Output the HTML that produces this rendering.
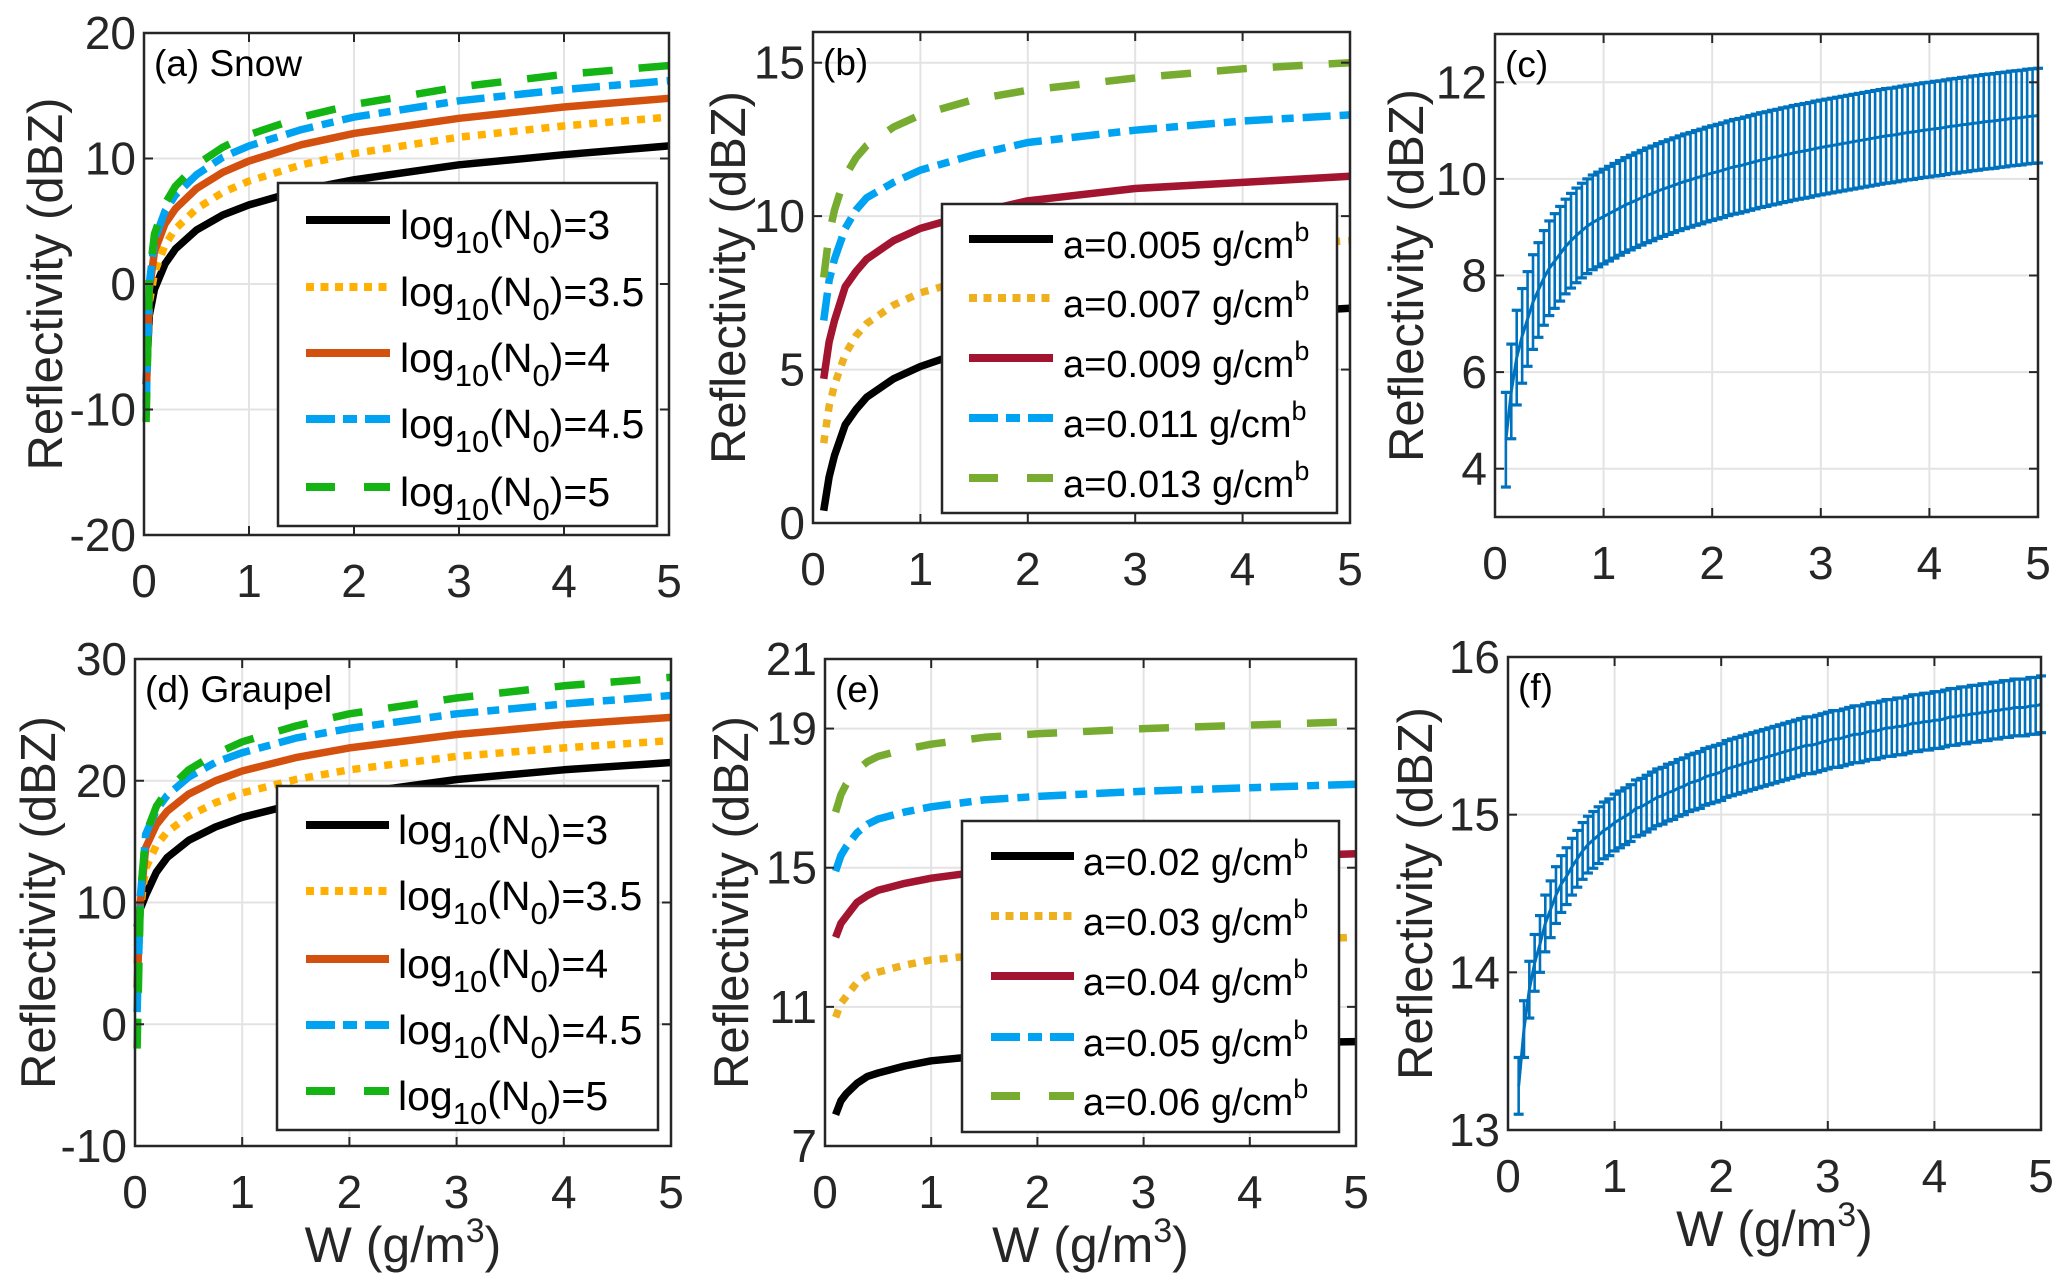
<!DOCTYPE html>
<html><head><meta charset="utf-8"><style>
html,body{margin:0;padding:0;background:#fff}
svg{display:block;font-family:"Liberation Sans",Arial,sans-serif}
</style></head><body>
<svg id="fig" width="2067" height="1288" viewBox="0 0 2067 1288" xmlns="http://www.w3.org/2000/svg"></svg>
<script>
// ---- data ----
const wLines = [0.02,0.05,0.1,0.2,0.3,0.5,0.75,1,1.5,2,3,4,5];
const snowN3   = [-8,-2.5,-0.4,1.6,2.8,4.3,5.5,6.3,7.5,8.3,9.5,10.3,11.0];
const snowN35  = [-9,-1.5,0.9,3.1,4.4,6.0,7.3,8.2,9.5,10.4,11.7,12.6,13.3];
const snowN4   = [-9.5,-0.5,2.6,4.8,6.0,7.6,8.9,9.8,11.1,12.0,13.2,14.1,14.8];
const snowN45  = [-10,0,3.5,5.8,7.1,8.7,10.1,11.0,12.3,13.3,14.6,15.5,16.2];
const snowN5   = [-11,0.5,4.0,6.4,7.8,9.5,10.9,11.9,13.3,14.3,15.7,16.7,17.4];
const grpN3    = [8,9.5,10.6,12.5,13.7,15.1,16.2,17,18.1,18.9,20.1,20.9,21.5];
const grpN35   = [5,9.5,12.8,14.7,15.8,17.1,18.2,19,20.1,20.9,22.0,22.7,23.3];
const grpN4    = [3,10,14.5,16.4,17.5,18.9,20.0,20.8,21.9,22.7,23.8,24.6,25.2];
const grpN45   = [1,10.5,15.6,17.6,18.8,20.3,21.5,22.3,23.5,24.3,25.5,26.3,27.0];
const grpN5    = [-2,10.5,15.6,17.9,19.2,20.9,22.2,23.2,24.5,25.5,26.8,27.8,28.5];
const wA = [0.1,0.15,0.2,0.3,0.4,0.5,0.75,1,1.5,2,3,4,5];
const snowA005 = [0.4,1.5,2.2,3.2,3.7,4.1,4.7,5.1,5.7,6.0,6.5,6.8,7.0];
const snowA007 = [2.6,3.8,4.5,5.5,6.1,6.5,7.1,7.5,8.0,8.4,8.8,9.0,9.2];
const snowA009 = [4.7,5.9,6.6,7.7,8.2,8.6,9.2,9.6,10.1,10.5,10.9,11.1,11.3];
const snowA011 = [6.6,7.9,8.6,9.6,10.2,10.6,11.1,11.5,12.0,12.4,12.8,13.1,13.3];
const snowA013 = [8.0,9.4,10.2,11.3,11.9,12.3,12.9,13.3,13.8,14.1,14.5,14.8,15.0];
const grpA02 = [7.9,8.3,8.5,8.8,9.0,9.1,9.3,9.45,9.6,9.7,9.85,9.95,10.0];
const grpA03 = [10.7,11.1,11.3,11.7,11.9,12.0,12.2,12.35,12.5,12.6,12.8,12.9,13.0];
const grpA04 = [13.0,13.4,13.6,14.0,14.2,14.35,14.55,14.7,14.9,15.0,15.2,15.3,15.4];
const grpA05 = [14.9,15.35,15.6,16.0,16.25,16.4,16.6,16.75,16.95,17.05,17.2,17.3,17.4];
const grpA06 = [16.6,17.1,17.4,17.8,18.05,18.2,18.4,18.55,18.75,18.85,19.0,19.1,19.2];
const wErr = [0.1,0.15,0.2,0.25,0.3,0.35,0.4,0.45,0.5,0.55,0.6,0.65,0.7,0.75,0.8,0.85,0.9,0.95,1.0,
1.05,1.1,1.15,1.2,1.25,1.3,1.35,1.4,1.45,1.5,1.55,1.6,1.65,1.7,1.75,1.8,1.85,1.9,1.95,2.0,
2.05,2.1,2.15,2.2,2.25,2.3,2.35,2.4,2.45,2.5,2.55,2.6,2.65,2.7,2.75,2.8,2.85,2.9,2.95,3.0,
3.05,3.1,3.15,3.2,3.25,3.3,3.35,3.4,3.45,3.5,3.55,3.6,3.65,3.7,3.75,3.8,3.85,3.9,3.95,4.0,
4.05,4.1,4.15,4.2,4.25,4.3,4.35,4.4,4.45,4.5,4.55,4.6,4.65,4.7,4.75,4.8,4.85,4.9,4.95,5.0];
const snowMean = [4.6,5.6,6.3,6.75,7.1,7.45,7.7,7.95,8.15,8.3,8.45,8.6,8.72,8.83,8.93,9.02,9.1,9.16,9.22,
9.28,9.34,9.40,9.46,9.51,9.56,9.61,9.66,9.70,9.75,9.79,9.83,9.87,9.91,9.95,9.98,10.02,10.05,10.09,10.12,
10.15,10.18,10.22,10.25,10.27,10.30,10.33,10.36,10.39,10.41,10.44,10.46,10.49,10.51,10.54,10.56,10.58,10.60,10.63,10.65,
10.67,10.69,10.71,10.73,10.75,10.77,10.79,10.81,10.83,10.85,10.87,10.89,10.90,10.92,10.94,10.96,10.97,10.99,11.01,11.02,
11.04,11.05,11.07,11.09,11.10,11.12,11.13,11.15,11.16,11.18,11.19,11.20,11.22,11.23,11.25,11.26,11.27,11.29,11.30,11.31];
const snowStd = 0.98;
const grpMean = [13.28,13.64,13.89,14.06,14.18,14.31,14.40,14.49,14.56,14.61,14.67,14.72,14.77,14.81,14.84,14.87,14.90,14.92,14.95,
14.97,14.99,15.01,15.04,15.05,15.07,15.09,15.11,15.12,15.14,15.15,15.17,15.18,15.20,15.21,15.22,15.24,15.25,15.26,15.27,
15.29,15.30,15.31,15.32,15.33,15.34,15.35,15.36,15.37,15.38,15.39,15.40,15.41,15.42,15.43,15.44,15.44,15.45,15.46,15.47,
15.48,15.48,15.49,15.50,15.51,15.51,15.52,15.53,15.53,15.54,15.55,15.55,15.56,15.56,15.57,15.58,15.58,15.59,15.59,15.60,
15.60,15.61,15.62,15.62,15.63,15.63,15.64,15.64,15.65,15.65,15.66,15.66,15.67,15.67,15.68,15.68,15.68,15.69,15.69,15.70];
const grpStd = 0.18;
const xTicks = [0,1,2,3,4,5];
const yTicksA = [-20,-10,0,10,20];
const yTicksB = [0,5,10,15];
const yTicksC = [4,6,8,10,12];
const yTicksD = [-10,0,10,20,30];
const yTicksE = [7,11,15,19,21];
const yTicksF = [13,14,15,16];
const legN = ['3','3.5','4','4.5','5'];
const legB = ['0.005','0.007','0.009','0.011','0.013'];
const legE = ['0.02','0.03','0.04','0.05','0.06'];

const NS='http://www.w3.org/2000/svg';
const svg=document.getElementById('fig');
function mk(tag,attrs,parent){const e=document.createElementNS(NS,tag);for(const k in attrs)e.setAttribute(k,attrs[k]);(parent||svg).appendChild(e);return e;}

const STY={solid:'none', dot:'8,8', dashdot:'28,9,12,9', dash:'30,26'};
function panel(id,box,ylim,yticks,label,xlabel){
  const g=mk('g',{});
  
  
  const [L,T,R,B]=box;
  const sx=v=>L+(v-0)/(5-0)*(R-L);
  const sy=v=>B-(v-ylim[0])/(ylim[1]-ylim[0])*(B-T);
  xTicks.forEach(t=>{if(t>0&&t<5){const l=mk('line',{x1:sx(t),x2:sx(t),y1:T,y2:B,stroke:'#e3e3e3','stroke-width':2},g);}});
  yticks.forEach(t=>{if(t>ylim[0]&&t<ylim[1]){const l=mk('line',{x1:L,x2:R,y1:sy(t),y2:sy(t),stroke:'#e3e3e3','stroke-width':2},g);}});
  return {g,sx,sy,L,T,R,B,ylim,yticks,label,xlabel,id};
}
function finish(p){
  const {g,sx,sy,L,T,R,B}=p;
  const ax=mk('g',{},g);
  
  
  mk('rect',{x:L,y:T,width:R-L,height:B-T,fill:'none',stroke:'#262626','stroke-width':2.5},ax);
  xTicks.forEach(t=>{
    mk('line',{x1:sx(t),x2:sx(t),y1:B,y2:B-9,stroke:'#262626','stroke-width':2},ax);
    mk('line',{x1:sx(t),x2:sx(t),y1:T,y2:T+9,stroke:'#262626','stroke-width':2},ax);
    const tx=mk('text',{x:sx(t),y:B+62,'font-size':46,'text-anchor':'middle',fill:'#262626'},ax);
    tx.textContent=t;
    
    
  });
  p.yticks.forEach(t=>{
    mk('line',{x1:L,x2:L+9,y1:sy(t),y2:sy(t),stroke:'#262626','stroke-width':2},ax);
    mk('line',{x1:R,x2:R-9,y1:sy(t),y2:sy(t),stroke:'#262626','stroke-width':2},ax);
    const tx=mk('text',{x:L-8,y:sy(t)+16,'font-size':46,'text-anchor':'end',fill:'#262626'},ax);
    tx.textContent=t;
    
    
  });
  const cy=(T+B)/2;
  const yl=mk('text',{x:0,y:0,'font-size':49,'text-anchor':'middle',fill:'#262626',transform:`translate(${p.ylx},${cy}) rotate(-90)`},g);
  yl.textContent='Reflectivity (dBZ)';
  
  
  const pl=mk('text',{x:L+10,y:T+43,'font-size':37,fill:'#000'},g);
  pl.textContent=p.label;
  
  
  if(p.xlabel){
    const xl=mk('text',{x:(L+R)/2,y:B+116,'font-size':50,'text-anchor':'middle',fill:'#262626'},g);
    
    
    xl.innerHTML='W (g/m<tspan dy="-20" font-size="34">3</tspan><tspan dy="20">)</tspan>';
  }
}
function line(p,xs,ys,color,sty,name){
  const pts=xs.map((x,i)=>p.sx(x).toFixed(1)+','+p.sy(ys[i]).toFixed(1)).join(' ');
  const attrs={points:pts,fill:'none',stroke:color,'stroke-width':7.5,'stroke-linejoin':'round'};
  if(sty!=='solid')attrs['stroke-dasharray']=STY[sty];
  const l=mk('polyline',attrs,p.g);
  
  
}
function legend(p,box,rows,fmt,fs){
  const [x0,y0,x1,y1,lineYs,sx0,sx1,tx]=box;
  const lg=mk('g',{},p.g);
  
  
  mk('rect',{x:x0,y:y0,width:x1-x0,height:y1-y0,fill:'#fff',stroke:'#262626','stroke-width':2.5},lg);
  rows.forEach((r,i)=>{
    const e=mk('g',{},lg);
    
    
    const a={x1:sx0,x2:sx1,y1:lineYs[i],y2:lineYs[i],stroke:r.c,'stroke-width':8};
    if(r.s!=='solid')a['stroke-dasharray']=r.s==='dash'?'29,29':(r.s==='dot'?'8,6.5':'29,8,14,8');
    mk('line',a,e);
    const t=mk('text',{x:tx,y:lineYs[i]+19,'font-size':fs,fill:'#000'},e);
    t.innerHTML=fmt(r.v);
  });
}
const colN=['#000000','#FFB000','#D4500F','#00A2F2','#14B414'];
const colA=['#000000','#EDB120','#A2142F','#00A2F2','#77AC30'];
const sty=['solid','dot','solid','dashdot','dash'];
const fmtN=v=>`log<tspan dy="14" font-size="31">10</tspan><tspan dy="-14">(N</tspan><tspan dy="14" font-size="31">0</tspan><tspan dy="-14">)=${v}</tspan>`;
const fmtA=v=>`a=${v} g/cm<tspan dy="-17" font-size="27">b</tspan>`;

let pa=panel('a',[144,33,669,535],[-20,20],yTicksA,'(a) Snow',false); pa.ylx=62;
[snowN3,snowN35,snowN4,snowN45,snowN5].forEach((s,i)=>line(pa,wLines,s,colN[i],sty[i],'snow-n0-'+legN[i]));
legend(pa,[278,183,657,526,[220,287,353,419,487],306,390,400],legN.map((v,i)=>({v,c:colN[i],s:sty[i]})),fmtN,41);
finish(pa);
let pb=panel('b',[813,32,1350,523],[0,16],yTicksB,'(b)',false); pb.ylx=745;
[snowA005,snowA007,snowA009,snowA011,snowA013].forEach((s,i)=>line(pb,wA,s,colA[i],sty[i],'snow-a-'+legB[i]));
legend(pb,[942,204,1337,513,[239,298,358,418,478],969,1053,1063],legB.map((v,i)=>({v,c:colA[i],s:sty[i]})),fmtA,38);
finish(pb);
let pc=panel('c',[1495,34,2038,517],[3,13],yTicksC,'(c)',false); pc.ylx=1423;
function errbars(p,xs,m,sd,name){
  const g=mk('g',{},p.g);
  
  
  xs.forEach((x,i)=>{
    const X=p.sx(x),y1=p.sy(m[i]+sd),y2=p.sy(m[i]-sd);
    mk('line',{x1:X,x2:X,y1:y1,y2:y2,stroke:'#0072BD','stroke-width':2.6},g);
    mk('line',{x1:X-5,x2:X+5,y1:y1,y2:y1,stroke:'#0072BD','stroke-width':3.2},g);
    mk('line',{x1:X-5,x2:X+5,y1:y2,y2:y2,stroke:'#0072BD','stroke-width':3.2},g);
  });
  const pts=xs.map((x,i)=>p.sx(x).toFixed(1)+','+p.sy(m[i]).toFixed(1)).join(' ');
  mk('polyline',{points:pts,fill:'none',stroke:'#0072BD','stroke-width':3},g);
}
errbars(pc,wErr,snowMean,snowStd,'snow-errorbars');
finish(pc);
let pd=panel('d',[135,659,671,1146],[-10,30],yTicksD,'(d) Graupel',true); pd.ylx=55;
[grpN3,grpN35,grpN4,grpN45,grpN5].forEach((s,i)=>line(pd,wLines,s,colN[i],sty[i],'graupel-n0-'+legN[i]));
legend(pd,[277,786,658,1130,[825,891,959,1025,1091],306,389,398],legN.map((v,i)=>({v,c:colN[i],s:sty[i]})),fmtN,41);
finish(pd);
let pe=panel('e',[825,659,1356,1146],[7,21],yTicksE,'(e)',true); pe.ylx=748;
[grpA02,grpA03,grpA04,grpA05,grpA06].forEach((s,i)=>line(pe,wA,s,colA[i],sty[i],'graupel-a-'+legE[i]));
legend(pe,[962,821,1339,1132,[856,916,976,1037,1096],991,1074,1083],legE.map((v,i)=>({v,c:colA[i],s:sty[i]})),fmtA,38);
finish(pe);
let pf=panel('f',[1508,657,2041,1130],[13,16],yTicksF,'(f)',true); pf.ylx=1432;
errbars(pf,wErr,grpMean,grpStd,'graupel-errorbars');
finish(pf);
</script>
</body></html>
